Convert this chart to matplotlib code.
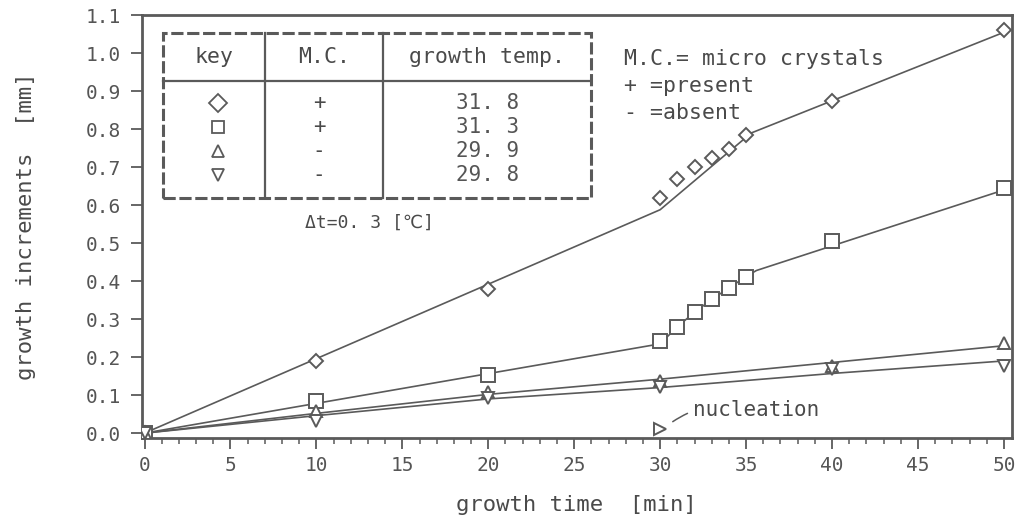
import matplotlib
matplotlib.use("Agg")
import matplotlib.pyplot as plt
from matplotlib.patches import Rectangle

# ---- data ----
# 31.8 C, micro crystals present (diamond)
dia_x = [0, 10, 20, 30, 31, 32, 33, 34, 35, 40, 50]
dia_y = [0.0, 0.19, 0.38, 0.618, 0.668, 0.70, 0.725, 0.748, 0.785, 0.873, 1.06]
dia_fit_x = [0, 30, 35.3, 50]
dia_fit_y = [0.0, 0.588, 0.79, 1.055]

# 31.3 C, micro crystals present (square)
sq_x = [0, 10, 20, 30, 31, 32, 33, 34, 35, 40, 50]
sq_y = [0.0, 0.085, 0.153, 0.243, 0.28, 0.318, 0.352, 0.382, 0.412, 0.505, 0.645]
sq_fit_x = [0, 30, 31, 32, 33, 34, 35, 35.6, 50]
sq_fit_y = [0.0, 0.235, 0.28, 0.318, 0.352, 0.382, 0.412, 0.428, 0.64]

# 29.9 C, absent (triangle up)
tu_x = [0, 10, 20, 30, 40, 50]
tu_y = [0.0, 0.057, 0.108, 0.137, 0.176, 0.238]
tu_fit_x = [0, 10, 20, 30, 40, 50]
tu_fit_y = [0.0, 0.052, 0.102, 0.142, 0.186, 0.23]

# 29.8 C, absent (triangle down)
td_x = [0, 10, 20, 30, 40, 50]
td_y = [0.0, 0.032, 0.092, 0.121, 0.17, 0.176]
td_fit_x = [0, 10, 20, 30, 40, 50]
td_fit_y = [0.0, 0.046, 0.09, 0.12, 0.157, 0.19]

nucl_x = [30]
nucl_y = [0.012]

key_temps = ["31. 8", "31. 3", "29. 9", "29. 8"]
key_mc = ["+", "+", "-", "-"]
key_markers = ["D", "s", "^", "v"]

xticks = list(range(0, 55, 5))
yticks = [round(0.1 * i, 1) for i in range(12)]

# ---- style ----
LC = "#5a5a5a"
TC = "#4a4a4a"
MONO = ["DejaVu Sans Mono", "DejaVu Sans", "Noto Sans CJK JP"]
plt.rcParams["font.family"] = MONO

fig = plt.figure(figsize=(10.26, 5.24), dpi=100)
ax = fig.add_axes([0.138, 0.164, 0.848, 0.807])
ax.set_xlim(-0.17, 50.45)
ax.set_ylim(-0.013, 1.1)

lw = 1.2
mk = dict(mfc="white", mec=LC, mew=1.4, ls="none", zorder=3)

ax.plot(dia_fit_x, dia_fit_y, color=LC, lw=lw)
ax.plot(sq_fit_x, sq_fit_y, color=LC, lw=lw)
ax.plot(tu_fit_x, tu_fit_y, color=LC, lw=lw)
ax.plot(td_fit_x, td_fit_y, color=LC, lw=lw)

ax.plot(dia_x, dia_y, marker="D", ms=7, **mk)
ax.plot(sq_x, sq_y, marker="s", ms=10, **mk)
ax.plot(tu_x, tu_y, marker="^", ms=9, **mk)
ax.plot(td_x, td_y, marker="v", ms=9, **mk)
ax.plot(nucl_x, nucl_y, marker=">", ms=9, **mk)

ax.annotate("nucleation", xy=(nucl_x[0] + 0.6, nucl_y[0] + 0.014),
            xytext=(31.9, 0.06), fontsize=15, color=TC, va="center",
            arrowprops=dict(arrowstyle="-", color=LC, lw=1.1,
                            connectionstyle="arc3,rad=0.25"))

for s in ax.spines.values():
    s.set_color(LC)
    s.set_linewidth(2.0)

ax.set_xticks(xticks)
ax.set_xticks(range(0, 51), minor=True)
ax.set_yticks(yticks)
ax.set_yticklabels([f"{v:.1f}" for v in yticks])
ax.tick_params(axis="both", which="major", direction="out", length=8,
               width=1.3, color=LC, labelcolor="#555555", labelsize=14)
ax.tick_params(axis="x", which="minor", direction="out", length=4,
               width=1.1, color=LC)
ax.tick_params(axis="y", which="minor", left=False)
ax.tick_params(axis="x", pad=5)
ax.tick_params(axis="y", pad=7)

ax.set_xlabel("growth time  [min]", fontsize=16, color=TC, labelpad=14)
ax.set_ylabel("growth increments  [mm]", fontsize=16, color=TC, labelpad=36)

# ---- key table (in data coords) ----
tx0, tx1 = 1.1, 26.0
ty0, ty1 = 0.618, 1.053
c1, c2 = 7.0, 13.9
hy = 0.926
ax.add_patch(Rectangle((tx0, ty0), tx1 - tx0, ty1 - ty0, fill=False,
                       ec=LC, lw=2.2, ls=(0, (4, 1.2)), zorder=2))
ax.plot([c1, c1], [ty0, ty1], color=LC, lw=1.6)
ax.plot([c2, c2], [ty0, ty1], color=LC, lw=1.6)
ax.plot([tx0, tx1], [hy, hy], color=LC, lw=1.6)

head_y = 0.99
ax.text((tx0 + c1) / 2, head_y, "key", fontsize=15.5, color=TC,
        ha="center", va="center")
ax.text((c1 + c2) / 2, head_y, "M.C.", fontsize=15.5, color=TC,
        ha="center", va="center")
ax.text((c2 + tx1) / 2, head_y, "growth temp.", fontsize=15.5, color=TC,
        ha="center", va="center")

for i in range(4):
    yy = 0.868 - i * 0.063
    ax.plot([(tx0 + c1) / 2 + 0.2], [yy], marker=key_markers[i], ms=9,
            mfc="white", mec=LC, mew=1.3, ls="none")
    ax.text((c1 + c2) / 2 - 0.3, yy, key_mc[i], fontsize=15, color=TC,
            ha="center", va="center")
    ax.text((c2 + tx1) / 2, yy, key_temps[i], fontsize=15, color="#555555",
            ha="center", va="center")

ax.text(13.1, 0.553, "Δt=0. 3 [℃]", fontsize=13, color=TC,
        ha="center", va="center")

ax.text(27.9, 0.985, "M.C.= micro crystals", fontsize=15.5, color=TC,
        ha="left", va="center")
ax.text(27.9, 0.914, "+ =present", fontsize=15.5, color=TC,
        ha="left", va="center")
ax.text(27.9, 0.843, "- =absent", fontsize=15.5, color=TC,
        ha="left", va="center")

fig.savefig("out.png", dpi=100, facecolor="white")
